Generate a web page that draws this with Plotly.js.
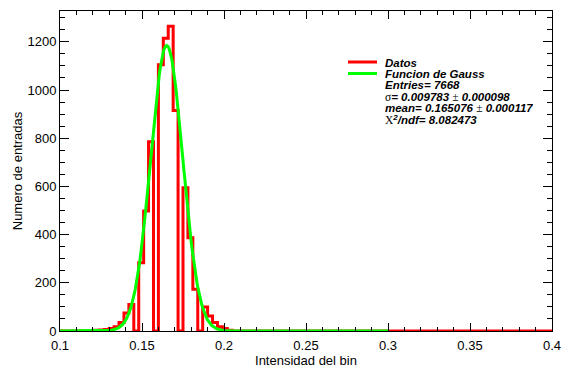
<!DOCTYPE html>
<html>
<head>
<meta charset="utf-8">
<script src="https://cdn.plot.ly/plotly-3.0.1.min.js"></script>
<style>
  html, body { margin: 0; padding: 0; background: #ffffff; }
  #chart { width: 562px; height: 372px; }
</style>
</head>
<body>
<div id="chart"></div>
<script>
// Histogram binning: 100 bins of width 0.003 between 0.1 and 0.4
const binLow = 0.1;
const binWidth = 0.003;
const nBins = 100;
// Contents of the filled bins, starting at bin index firstFilledBin
const firstFilledBin = 7;
const filledCounts = [3, 4, 6, 10, 18, 35, 75, 110, 0, 283, 498, 785, 0, 1105, 1215, 1265,
                      915, 0, 595, 387, 173, 0, 100, 62, 35, 18, 10, 3];

// Gaussian fit results
const fitConstant = 1185;
const fitMean = 0.165076;
const fitMeanErr = 0.000117;
const fitSigma = 0.009783;
const fitSigmaErr = 0.000098;
const fitChi2Ndf = 8.082473;
const fitRange = [0.1, 0.3];
const nEntries = 7668;

// Axis tick values
const xTicks = [0.1, 0.15, 0.2, 0.25, 0.3, 0.35, 0.4];
const xTickText = ['0.1', '0.15', '0.2', '0.25', '0.3', '0.35', '0.4'];
const yTicks = [0, 200, 400, 600, 800, 1000, 1200];

// Build the full bin content array
const counts = new Array(nBins).fill(0);
filledCounts.forEach((c, i) => { counts[firstFilledBin + i] = c; });

// Step outline: one point per lower bin edge, plus the upper edge of the last bin
const histX = [];
const histY = [];
for (let k = 0; k < nBins; k++) {
  histX.push(binLow + k * binWidth);
  histY.push(counts[k]);
}
histX.push(binLow + nBins * binWidth);
histY.push(counts[nBins - 1]);

// Fitted Gaussian drawn over the fit range
const fitX = [];
const fitY = [];
const nFit = 400;
for (let i = 0; i <= nFit; i++) {
  const x = fitRange[0] + (fitRange[1] - fitRange[0]) * i / nFit;
  fitX.push(x);
  fitY.push(fitConstant * Math.exp(-0.5 * Math.pow((x - fitMean) / fitSigma, 2)));
}

const histTrace = {
  type: 'scatter', mode: 'lines', x: histX, y: histY,
  line: { shape: 'hv', color: '#ff0000', width: 3 },
  showlegend: false, hoverinfo: 'skip'
};
const fitTrace = {
  type: 'scatter', mode: 'lines', x: fitX, y: fitY,
  line: { color: '#00ff00', width: 3 },
  showlegend: false, hoverinfo: 'skip'
};

const sans = 'Liberation Sans, Arial, Helvetica, sans-serif';
const serifSpan = s => '<span style="font-family:Liberation Serif, Times New Roman, serif;font-weight:normal;font-style:normal">' + s + '</span>';

// Legend block (top right)
const legX0 = 0.5854, legX1 = 0.6443, legTextX = 0.6585;
const legRows = [0.8406, 0.8047, 0.7688, 0.7328, 0.6969, 0.6609];
const legendLines = [
  'Datos',
  'Funcion de Gauss',
  'Entries= ' + nEntries,
  serifSpan('σ') + '= ' + fitSigma.toFixed(6) + ' ' + serifSpan('±') + ' ' + fitSigmaErr.toFixed(6),
  'mean= ' + fitMean.toFixed(6) + ' ' + serifSpan('±') + ' ' + fitMeanErr.toFixed(6),
  serifSpan('Χ') + '<sup>2</sup>/ndf= ' + fitChi2Ndf.toFixed(6)
];

const annotations = legendLines.map((t, i) => ({
  xref: 'paper', yref: 'paper', x: legTextX, y: legRows[i],
  xanchor: 'left', yanchor: 'middle', showarrow: false, text: t,
  height: 11, valign: 'middle', borderpad: 0,
  font: { family: sans, size: 11.5, color: '#000000', weight: 'bold', style: 'italic' }
}));

const shapes = [
  { type: 'line', xref: 'paper', yref: 'paper', x0: legX0, x1: legX1, y0: legRows[0], y1: legRows[0],
    line: { color: '#ff0000', width: 3 } },
  { type: 'line', xref: 'paper', yref: 'paper', x0: legX0, x1: legX1, y0: legRows[1], y1: legRows[1],
    line: { color: '#00ff00', width: 3 } }
];

const axisCommon = {
  showline: true, linecolor: '#000000', linewidth: 1, mirror: 'ticks',
  ticks: 'inside', tickcolor: '#000000', tickwidth: 1,
  showgrid: false, zeroline: false, fixedrange: true,
  tickfont: { family: sans, size: 13, color: '#000000' }
};

const layout = {
  width: 562, height: 372,
  margin: { l: 60, r: 10, t: 11, b: 41 },
  paper_bgcolor: '#ffffff', plot_bgcolor: '#ffffff',
  showlegend: false,
  xaxis: Object.assign({}, axisCommon, {
    range: [0.1, 0.4], tickvals: xTicks, ticktext: xTickText, ticklen: 8,
    ticklabelstandoff: 2,
    minor: { dtick: 0.01, tick0: 0.1, ticklen: 4, ticks: 'inside', tickcolor: '#000000', tickwidth: 1 },
    title: { text: 'Intensidad del bin', font: { family: sans, size: 13, color: '#000000' }, standoff: 4 }
  }),
  yaxis: Object.assign({}, axisCommon, {
    range: [0, 1328], tickvals: yTicks, ticklen: 9,
    minor: { dtick: 50, tick0: 0, ticklen: 5, ticks: 'inside', tickcolor: '#000000', tickwidth: 1 },
    title: { text: 'Numero de entradas', font: { family: sans, size: 13, color: '#000000' }, standoff: 1 }
  }),
  annotations: annotations,
  shapes: shapes
};

Plotly.newPlot('chart', [histTrace, fitTrace], layout, { displayModeBar: false, staticPlot: true });
</script>
</body>
</html>
